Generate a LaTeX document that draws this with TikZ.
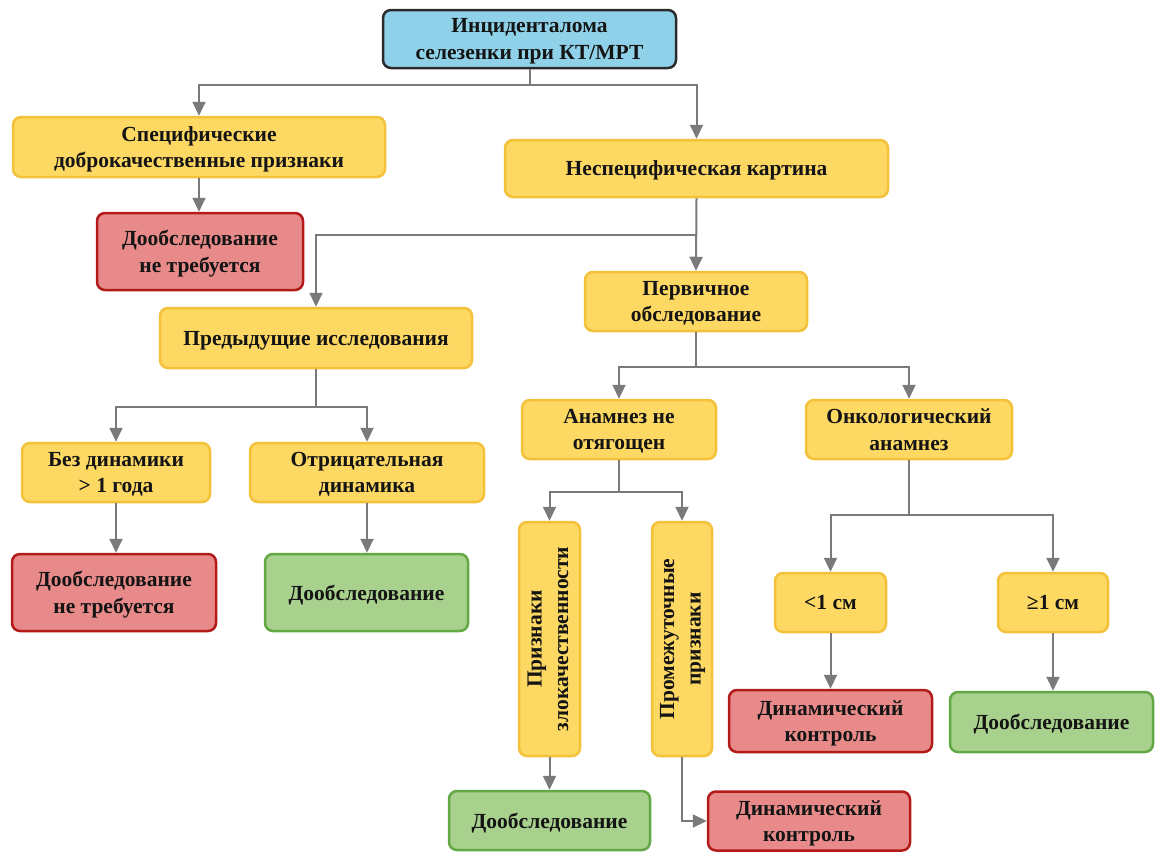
\documentclass[tikz,border=0pt]{standalone}
\usepackage{fontspec}
\setmainfont{Liberation Serif}[BoldFont={Liberation Serif Bold}]
\usetikzlibrary{arrows.meta}
\definecolor{cyfill}{HTML}{8ED1E8}
\definecolor{cyline}{HTML}{2B2B2B}
\definecolor{yefill}{HTML}{FDD862}
\definecolor{yeline}{HTML}{F3C13A}
\definecolor{rdfill}{HTML}{E88A8A}
\definecolor{rdline}{HTML}{B31B1B}
\definecolor{gnfill}{HTML}{A9D18E}
\definecolor{gnline}{HTML}{62A845}
\definecolor{linec}{HTML}{7A7A7A}
\definecolor{txt}{HTML}{141414}
\begin{document}
\begin{tikzpicture}[x=1pt,y=-1pt,
  basebox/.style={rectangle, rounded corners=8pt, line width=2.5pt, align=center, inner sep=2pt,
    text=txt, font=\rmfamily\bfseries\fontsize{21.5}{26.5}\selectfont},
  box/.style={basebox, text depth=-2pt},
  cy/.style={box, fill=cyfill, draw=cyline},
  ye/.style={box, fill=yefill, draw=yeline},
  yev/.style={basebox, fill=yefill, draw=yeline},
  rd/.style={box, fill=rdfill, draw=rdline},
  gn/.style={box, fill=gnfill, draw=gnline},
  ln/.style={draw=linec, line width=2pt},
  arr/.style={draw=linec, line width=2pt, -{Triangle[width=13pt,length=14pt]}}
]
\useasboundingbox[fill=white] (0,0) rectangle (1155,852);

\node[cy, minimum width=293pt, minimum height=58pt] (top) at (529.5,39) {Инциденталома\\селезенки при КТ/МРТ};
\node[ye, minimum width=372pt, minimum height=60pt] (spec) at (199,147) {Специфические\\доброкачественные признаки};
\node[ye, minimum width=383pt, minimum height=57pt] (nespec) at (696.5,168.5) {Неспецифическая картина};
\node[rd, minimum width=206pt, minimum height=77pt] (red1) at (200,251.5) {Дообследование\\не требуется};
\node[ye, minimum width=222pt, minimum height=59pt] (perv) at (696,301.5) {Первичное\\обследование};
\node[ye, minimum width=312pt, minimum height=60pt] (pred) at (316,338) {Предыдущие исследования};
\node[ye, minimum width=188pt, minimum height=59pt] (bez) at (116,472.5) {Без динамики\\> 1 года};
\node[ye, minimum width=234pt, minimum height=59pt] (otr) at (367,472.5) {Отрицательная\\динамика};
\node[rd, minimum width=204pt, minimum height=77pt] (red2) at (114,592.5) {Дообследование\\не требуется};
\node[gn, minimum width=203pt, minimum height=77pt] (gn1) at (366.5,592.5) {Дообследование};
\node[ye, minimum width=194pt, minimum height=59pt] (anam) at (619,429.5) {Анамнез не\\отягощен};
\node[ye, minimum width=206pt, minimum height=59pt] (onko) at (909,429.5) {Онкологический\\анамнез};
\node[yev, minimum width=61pt, minimum height=234pt] (priz) at (549.5,639) {\rotatebox{90}{\begin{tabular}{@{}c@{}}Признаки\\злокачественности\end{tabular}}};
\node[yev, minimum width=60pt, minimum height=234pt] (prom) at (682,639) {\rotatebox{90}{\begin{tabular}{@{}c@{}}Промежуточные\\признаки\end{tabular}}};
\node[ye, minimum width=111pt, minimum height=59pt] (lt1) at (830.5,602.5) {<1 см};
\node[ye, minimum width=110pt, minimum height=59pt] (ge1) at (1053,602.5) {≥1 см};
\node[rd, minimum width=203pt, minimum height=62pt] (red3) at (830.5,721) {Динамический\\контроль};
\node[gn, minimum width=203pt, minimum height=60pt] (gn2) at (1051.5,722) {Дообследование};
\node[gn, minimum width=201pt, minimum height=59pt] (gn3) at (549.5,820.5) {Дообследование};
\node[rd, minimum width=202pt, minimum height=59pt] (red4) at (809,821) {Динамический\\контроль};

% connectors
\coordinate (j1) at (529.5,85);
\draw[ln] (top.south) -- (j1);
\draw[arr] (j1) -| (spec.north);
\draw[arr] (j1) -| (nespec.north);
\draw[arr] (spec.south) -- (spec.south |- red1.north);

\coordinate (j2) at (696.5,235);
\draw[arr] (nespec.south) -- (perv.north);
\draw[arr] (j2) -| (pred.north);

\coordinate (j3) at (316,407);
\draw[ln] (pred.south) -- (j3);
\draw[arr] (j3) -| (bez.north);
\draw[arr] (j3) -| (otr.north);
\draw[arr] (bez.south) -- (bez.south |- red2.north);
\draw[arr] (otr.south) -- (otr.south |- gn1.north);

\coordinate (j4) at (696,367);
\draw[ln] (perv.south) -- (j4);
\draw[arr] (j4) -| (anam.north);
\draw[arr] (j4) -| (onko.north);

\coordinate (j5) at (619,492);
\draw[ln] (anam.south) -- (j5);
\draw[arr] (j5) -| (priz.north);
\draw[arr] (j5) -| (prom.north);
\draw[arr] (priz.south) -- (gn3.north);
\draw[arr] (prom.south) |- (red4.west);

\coordinate (j6) at (909,515);
\draw[ln] (onko.south) -- (j6);
\draw[arr] (j6) -| (lt1.north);
\draw[arr] (j6) -| (ge1.north);
\draw[arr] (lt1.south) -- (red3.north);
\draw[arr] (ge1.south) -- (ge1.south |- gn2.north);
\end{tikzpicture}
\end{document}
